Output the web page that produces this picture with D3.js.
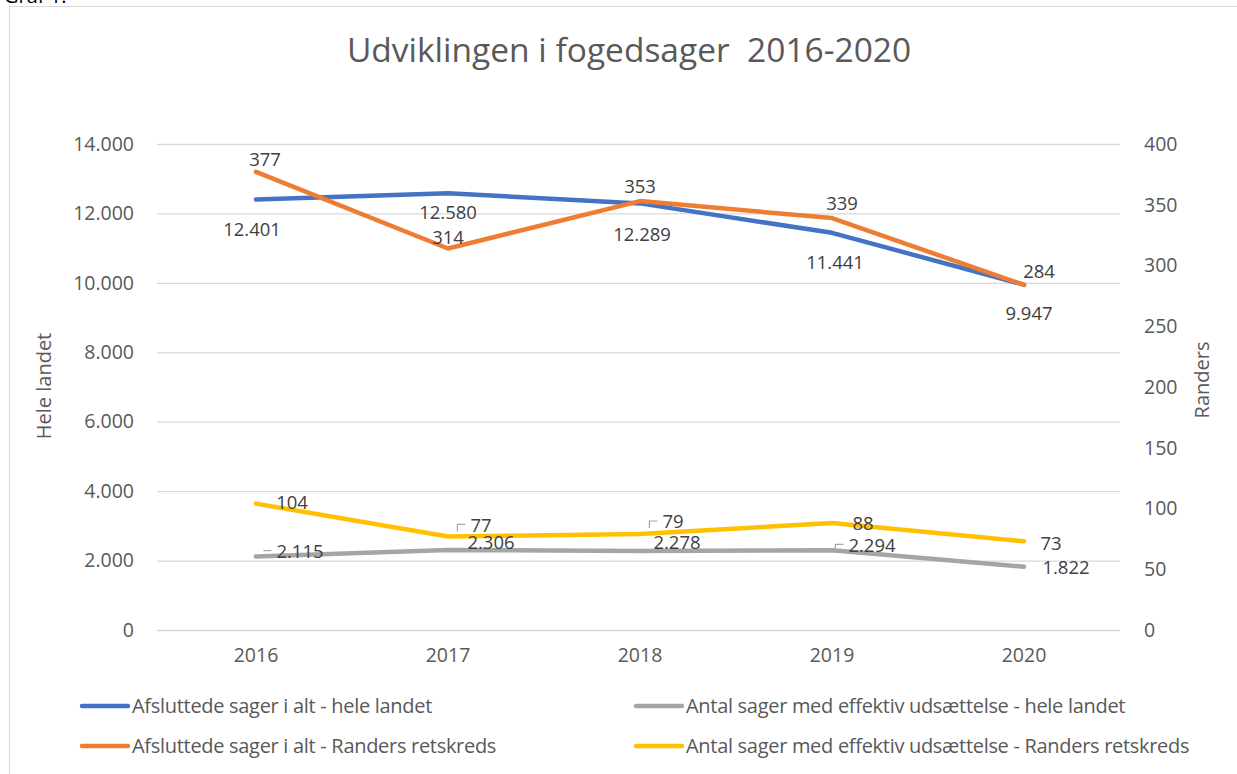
<!DOCTYPE html>
<html>
<head>
<meta charset="utf-8">
<script src="https://cdn.jsdelivr.net/npm/d3@7"></script>
<style>
  html, body { margin: 0; padding: 0; background: #fff; }
  svg { display: block; font-family: "Open Sans", sans-serif; }
</style>
</head>
<body>
<div id="chart"></div>
<script>
// Data
const years = ["2016", "2017", "2018", "2019", "2020"];
const afsluttedeHele = [12401, 12580, 12289, 11441, 9947];
const afsluttedeRanders = [377, 314, 353, 339, 284];
const udsaettelseHele = [2115, 2306, 2278, 2294, 1822];
const udsaettelseRanders = [104, 77, 79, 88, 73];
const leftTicks = [0, 2000, 4000, 6000, 8000, 10000, 12000, 14000];
const rightTicks = [0, 50, 100, 150, 200, 250, 300, 350, 400];
const seriesNames = [
  "Afsluttede sager i alt - hele landet",
  "Antal sager med effektiv udsættelse - hele landet",
  "Afsluttede sager i alt - Randers retskreds",
  "Antal sager med effektiv udsættelse - Randers retskreds"
];

const width = 1237;
const height = 774;
const margin = {top: 144, right: 117, bottom: 144, left: 160};
const colors = {blue: "#4472C4", orange: "#ED7D31", gray: "#A5A5A5", yellow: "#FFC000"};
const textGray = "#595959";

// label offsets from their point (dx, dy), Excel-style manual placement
const labelOffsets = {
  blue:   [[-4, 30], [0, 19], [2, 31], [3, 30], [5, 29]],
  orange: [[9, -12], [0, -11], [0, -15], [10, -15], [15, -13]],
  gray:   [[44, -5], [43, -7], [37, -8], [40, -5], [42, 1]],
  yellow: [[36, -1], [33, -11], [33, -12], [31, 0], [27, 2]]
};
const leaders = {
  gray: [true, false, false, true, false],
  yellow: [false, true, true, false, false]
};

const nf = d3.formatLocale({decimal: ",", thousands: ".", grouping: [3], currency: ["", " kr"]}).format(",d");

const svg = d3.select("#chart")
  .append("svg")
    .attr("width", width)
    .attr("height", height);

// frame
svg.append("rect")
  .attr("x", 9.5).attr("y", 6.5)
  .attr("width", width + 10).attr("height", height + 10)
  .attr("fill", "#fff")
  .attr("stroke", "#d9d9d9");

svg.append("text")
  .text("Graf 1:")
  .attr("x", 4).attr("y", 3)
  .attr("font-size", 20)
  .attr("fill", "#000");

// scales
const xScale = d3.scaleBand()
  .domain(years)
  .range([margin.left, width - margin.right]);
const xc = d => xScale(d) + xScale.bandwidth() / 2;

const yLeft = d3.scaleLinear()
  .domain([0, 14000])
  .range([height - margin.bottom, margin.top]);
const yRight = d3.scaleLinear()
  .domain([0, 400])
  .range([height - margin.bottom, margin.top]);

// gridlines
svg.append("g")
  .attr("transform", `translate(${margin.left - 3}, 0)`)
  .call(d3.axisLeft(yLeft).tickValues(leftTicks).tickSize(-(width - margin.right - margin.left + 3)).tickFormat(""))
  .call(g => g.select(".domain").remove())
  .call(g => g.selectAll(".tick line").attr("stroke", "#d9d9d9").attr("stroke-width", 1.3));

const styleTicks = g => g.selectAll("text")
  .attr("font-family", "Open Sans, sans-serif")
  .attr("font-size", 19.5)
  .attr("fill", textGray);

// left axis
svg.append("g")
  .attr("transform", `translate(${margin.left - 23}, 0)`)
  .call(d3.axisLeft(yLeft).tickValues(leftTicks).tickSize(0).tickFormat(nf))
  .call(g => g.select(".domain").remove())
  .call(styleTicks);

// right axis
svg.append("g")
  .attr("transform", `translate(${width - margin.right + 21}, 0)`)
  .call(d3.axisRight(yRight).tickValues(rightTicks).tickSize(0))
  .call(g => g.select(".domain").remove())
  .call(styleTicks);

// x axis
svg.append("g")
  .attr("transform", `translate(0, ${height - margin.bottom + 15})`)
  .call(d3.axisBottom(xScale).tickSize(0))
  .call(g => g.select(".domain").remove())
  .call(styleTicks);

// axis titles
svg.append("text")
  .text("Hele landet")
  .attr("transform", `translate(51, 386) rotate(-90)`)
  .attr("text-anchor", "middle")
  .attr("font-size", 20)
  .attr("fill", textGray);
svg.append("text")
  .text("Randers")
  .attr("transform", `translate(1209, 380) rotate(-90)`)
  .attr("text-anchor", "middle")
  .attr("font-size", 20)
  .attr("fill", textGray);

// title
svg.append("text")
  .text("Udviklingen i fogedsager  2016-2020")
  .attr("x", 629).attr("y", 62)
  .attr("text-anchor", "middle")
  .attr("font-size", 33.5)
  .attr("fill", textGray)
  .style("white-space", "pre");

// lines
const series = [
  {key: "blue", values: afsluttedeHele, y: yLeft},
  {key: "gray", values: udsaettelseHele, y: yLeft},
  {key: "orange", values: afsluttedeRanders, y: yRight},
  {key: "yellow", values: udsaettelseRanders, y: yRight}
];
const drawOrder = ["gray", "yellow", "blue", "orange"];

drawOrder.forEach(k => {
  const s = series.find(d => d.key === k);
  const line = d3.line()
    .x((d, i) => xc(years[i]))
    .y(d => s.y(d));
  svg.append("path")
    .datum(s.values)
    .attr("d", line)
    .attr("fill", "none")
    .attr("stroke", colors[k])
    .attr("stroke-width", 4.5)
    .attr("stroke-linecap", "round")
    .attr("stroke-linejoin", "round");
});

// data labels
series.forEach(s => {
  const g = svg.append("g");
  s.values.forEach((v, i) => {
    const [dx, dy] = labelOffsets[s.key][i];
    const lx = xc(years[i]) + dx;
    const ly = s.y(v) + dy;
    const t = g.append("text")
      .text(nf(v))
      .attr("x", lx).attr("y", ly)
      .attr("dy", "0.35em")
      .attr("text-anchor", "middle")
      .attr("font-size", 18.5)
      .attr("fill", "#404040");
    if (leaders[s.key] && leaders[s.key][i]) {
      const w = t.node().getComputedTextLength();
      const left = lx - w / 2 - 5;
      const drop = s.key === "gray" && i === 0 ? 0 : 7;
      g.append("path")
        .attr("d", `M${left},${ly - 1}H${left - 8}V${ly - 1 + drop}`)
        .attr("fill", "none")
        .attr("stroke", "#a6a6a6")
        .attr("stroke-width", 1.2);
    }
  });
});

// legend
const legendItems = [
  {name: seriesNames[0], color: colors.blue, x: 82, y: 706},
  {name: seriesNames[1], color: colors.gray, x: 636, y: 706},
  {name: seriesNames[2], color: colors.orange, x: 82, y: 746},
  {name: seriesNames[3], color: colors.yellow, x: 636, y: 746}
];
const legend = svg.append("g")
  .selectAll("g")
  .data(legendItems)
  .join("g")
    .attr("transform", d => `translate(${d.x}, ${d.y})`);
legend.append("line")
  .attr("x1", 0).attr("x2", 46)
  .attr("stroke", d => d.color)
  .attr("stroke-width", 4.5)
  .attr("stroke-linecap", "round");
legend.append("text")
  .text(d => d.name)
  .attr("x", 50)
  .attr("dy", "0.35em")
  .attr("font-size", 20)
  .attr("letter-spacing", -0.3)
  .attr("fill", textGray);
</script>
</body>
</html>
